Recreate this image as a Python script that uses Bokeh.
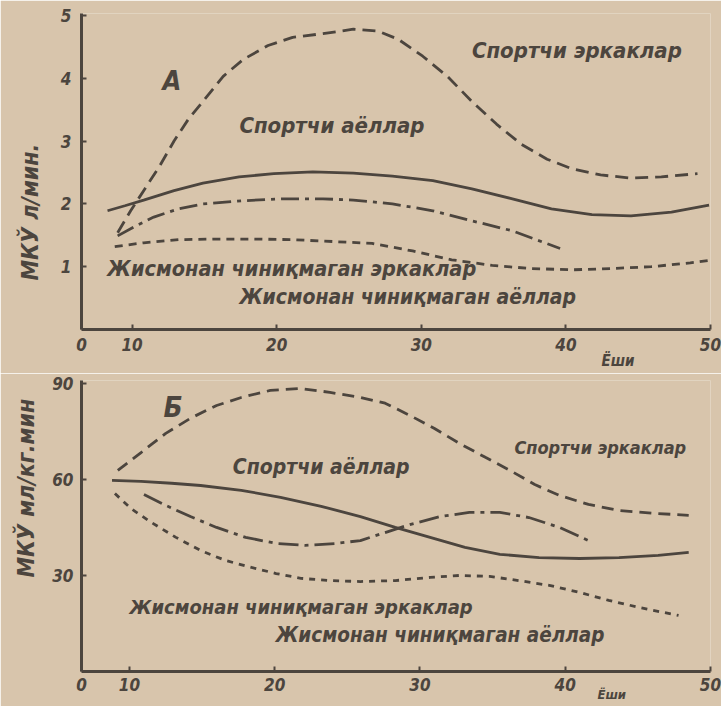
from bokeh.plotting import figure
from bokeh.layouts import column
from bokeh.models import Label, FixedTicker, Range1d, LinearAxis, Title
from bokeh.embed import file_html
from bokeh.resources import INLINE

# ---------------- data: panel A (МКЎ л/мин) ----------------
a_men_sport_x = [9.0, 9.9, 10.8, 11.9, 12.9, 13.9, 14.9, 16.3, 17.7, 19.4, 21.1, 23.2, 25.3, 27.0, 28.4, 30.1,
                 31.8, 33.5, 35.2, 36.9, 38.7, 40.4, 42.4, 44.5, 46.6, 49.1]
a_men_sport_y = [1.54, 1.89, 2.21, 2.60, 3.00, 3.35, 3.63, 4.03, 4.30, 4.52, 4.65, 4.71, 4.78, 4.75, 4.62, 4.35,
                 4.03, 3.63, 3.27, 2.95, 2.71, 2.56, 2.46, 2.41, 2.43, 2.48]
a_women_sport_x = [8.3, 9.5, 10.8, 12.9, 14.9, 17.4, 19.8, 22.5, 25.3, 28.0, 30.8, 33.5, 36.3, 39.0, 41.8, 44.5, 47.3, 49.9]
a_women_sport_y = [1.89, 1.97, 2.06, 2.21, 2.33, 2.43, 2.48, 2.51, 2.49, 2.44, 2.37, 2.24, 2.08, 1.92, 1.83, 1.81, 1.87, 1.98]
a_men_untr_x = [9.0, 10.1, 11.5, 13.2, 14.9, 17.7, 20.4, 23.2, 25.3, 28.0, 30.8, 33.5, 36.3, 39.6]
a_men_untr_y = [1.49, 1.63, 1.79, 1.92, 2.00, 2.05, 2.08, 2.08, 2.06, 2.00, 1.89, 1.73, 1.57, 1.29]
a_women_untr_x = [8.8, 10.8, 13.2, 15.6, 18.4, 21.1, 23.9, 26.6, 29.4, 32.1, 34.9, 37.6, 40.4, 43.1, 45.9, 48.6, 49.9]
a_women_untr_y = [1.32, 1.38, 1.43, 1.44, 1.44, 1.43, 1.40, 1.37, 1.25, 1.11, 1.02, 0.97, 0.95, 0.97, 1.00, 1.06, 1.10]

# ---------------- data: panel Б (МКЎ мл/кг.мин) ----------------
b_men_sport_x = [9.2, 10.8, 12.5, 14.2, 16.0, 17.7, 19.7, 21.8, 23.8, 25.9, 27.6, 29.3, 31.0, 32.7, 34.5, 36.2,
                 37.9, 39.6, 41.6, 43.7, 46.1, 48.5]
b_men_sport_y = [62.8, 68.4, 74.4, 79.1, 83.1, 85.6, 87.8, 88.4, 87.2, 85.6, 83.8, 80.0, 75.9, 71.3, 66.9, 62.8,
                 58.4, 55.0, 52.2, 50.3, 49.4, 48.8]
b_women_sport_x = [8.8, 10.8, 12.9, 14.9, 17.7, 20.4, 23.2, 25.9, 28.3, 30.7, 33.1, 35.5, 38.2, 41.0, 43.7, 46.4, 48.5]
b_women_sport_y = [59.7, 59.4, 58.8, 58.1, 56.6, 54.4, 51.6, 48.4, 45.0, 41.9, 38.8, 36.6, 35.6, 35.3, 35.6, 36.3, 37.2]
b_men_untr_x = [11.0, 12.5, 14.2, 16.0, 18.0, 20.1, 22.1, 24.2, 25.9, 27.6, 29.3, 31.4, 33.4, 35.5, 37.5, 39.6, 41.6]
b_men_untr_y = [55.3, 51.9, 48.4, 45.0, 41.9, 40.0, 39.4, 40.0, 40.9, 43.4, 45.9, 48.4, 49.7, 49.7, 48.1, 45.0, 40.9]
b_women_untr_x = [9.0, 10.1, 11.5, 13.2, 14.9, 16.6, 18.4, 20.1, 21.8, 23.8, 25.9, 28.3, 30.7, 32.7, 34.8, 36.8,
                  38.9, 41.0, 43.0, 45.1, 47.8]
b_women_untr_y = [55.6, 50.9, 46.6, 41.9, 37.8, 34.7, 32.5, 30.6, 29.1, 28.4, 28.1, 28.4, 29.4, 30.0, 29.7, 28.4,
                  26.9, 24.7, 22.2, 20.0, 17.5]

x_ticks = [10, 20, 30, 40, 50]
a_y_ticks = [1, 2, 3, 4, 5]
b_y_ticks = [30, 60, 90]

# ---------------- style ----------------
BG = "#d8c5ac"
INK = "#4c453e"
FONT = "DejaVu Sans Condensed"


def style(p, x0, yticks):
    p.background_fill_color = BG
    p.border_fill_color = BG
    p.outline_line_color = None
    p.grid.visible = False
    for ax in (p.xaxis[0], p.yaxis[0]):
        ax.axis_line_color = INK
        ax.axis_line_width = 3
        ax.major_tick_line_color = INK
        ax.major_tick_line_width = 2
        ax.major_tick_in = 5
        ax.major_tick_out = 0
        ax.minor_tick_line_color = None
        ax.major_label_text_font = FONT
        ax.major_label_text_font_style = "bold italic"
        ax.major_label_text_color = INK
        ax.major_label_text_font_size = "17px"
    p.xaxis[0].ticker = FixedTicker(ticks=[x0] + x_ticks)
    p.xaxis[0].major_label_overrides = {x0: "0"}
    p.yaxis[0].ticker = FixedTicker(ticks=yticks)


def age_label(p, x, text, size, standoff):
    ax = LinearAxis(ticker=FixedTicker(ticks=[x]), major_label_overrides={x: text},
                    axis_line_color=None, major_tick_line_color=None, minor_tick_line_color=None,
                    major_label_standoff=standoff, major_label_text_font=FONT,
                    major_label_text_font_style="bold italic", major_label_text_color=INK,
                    major_label_text_font_size=size)
    p.add_layout(ax, "below")


def y_title(p, text, offset, standoff):
    p.add_layout(Title(text=text, align="left", offset=offset, standoff=standoff, text_font=FONT,
                       text_font_style="bold italic", text_font_size="23px", text_color=INK), "left")


def lab(p, x, y, text, size="21px", align="left", baseline="middle"):
    p.add_layout(Label(x=x, y=y, text=text, text_font=FONT, text_font_style="bold italic",
                       text_font_size=size, text_color=INK, text_align=align, text_baseline=baseline))


# ---------------- panel A ----------------
xa0 = 6.5
pA = figure(width=721, height=373, output_backend="svg", toolbar_location=None,
            x_range=Range1d(xa0, 50), y_range=Range1d(0, 5.03),
            min_border_left=77, min_border_right=11, min_border_top=13, min_border_bottom=44)
style(pA, xa0, a_y_ticks)
pA.yaxis[0].major_label_standoff = 10
pA.xaxis[0].major_label_standoff = 8
age_label(pA, 43.6, "Ёши", "15px", -8)
y_title(pA, "МКЎ л/мин.", 49, 29)

pA.line(a_men_sport_x, a_men_sport_y, line_color=INK, line_width=2.8, line_dash="13 7")
pA.line(a_women_sport_x, a_women_sport_y, line_color=INK, line_width=2.8)
pA.line(a_men_untr_x, a_men_untr_y, line_color=INK, line_width=2.8, line_dash="18 6 4 6")
pA.line(a_women_untr_x, a_women_untr_y, line_color=INK, line_width=2.8, line_dash="8 6")

lab(pA, 12.75, 3.96, "А", size="27px", align="center")
lab(pA, 33.5, 4.44, "Спортчи эркаклар", size="22px")
lab(pA, 17.42, 3.25, "Спортчи аёллар", size="22px")
lab(pA, 8.28, 0.97, "Жисмонан чиниқмаган эркаклар", size="21.5px")
lab(pA, 17.42, 0.51, "Жисмонан чиниқмаган аёллар", size="21px")

# ---------------- panel Б ----------------
xb0 = 6.7
pB = figure(width=721, height=333, output_backend="svg", toolbar_location=None,
            x_range=Range1d(xb0, 50), y_range=Range1d(0, 90.9),
            min_border_left=80, min_border_right=10, min_border_top=7, min_border_bottom=35)
style(pB, xb0, b_y_ticks)
pB.yaxis[0].major_label_standoff = 8
pB.xaxis[0].major_label_standoff = 6
age_label(pB, 43.2, "Ёши", "13px", -13)
y_title(pB, "МКЎ мл/кг.мин", 94, 21)

pB.line(b_men_sport_x, b_men_sport_y, line_color=INK, line_width=2.8, line_dash="12 7")
pB.line(b_women_sport_x, b_women_sport_y, line_color=INK, line_width=2.8)
pB.line(b_men_untr_x, b_men_untr_y, line_color=INK, line_width=2.8, line_dash="20 6 4 6")
pB.line(b_women_untr_x, b_women_untr_y, line_color=INK, line_width=2.8, line_dash="6 6")

lab(pB, 13.0, 82.5, "Б", size="28px", align="center")
lab(pB, 17.12, 63.75, "Спортчи аёллар", size="21px")
lab(pB, 36.5, 70.0, "Спортчи эркаклар", size="18px")
lab(pB, 10.0, 20.0, "Жисмонан чиниқмаган эркаклар", size="20px")
lab(pB, 20.07, 11.25, "Жисмонан чиниқмаган аёллар", size="20.5px")

layout = column(pA, pB, spacing=0)
html = file_html(layout, INLINE)
html = html.replace("<body>", '<body style="background-color:%s;">' % BG, 1)
open("out.html", "w").write(html)
